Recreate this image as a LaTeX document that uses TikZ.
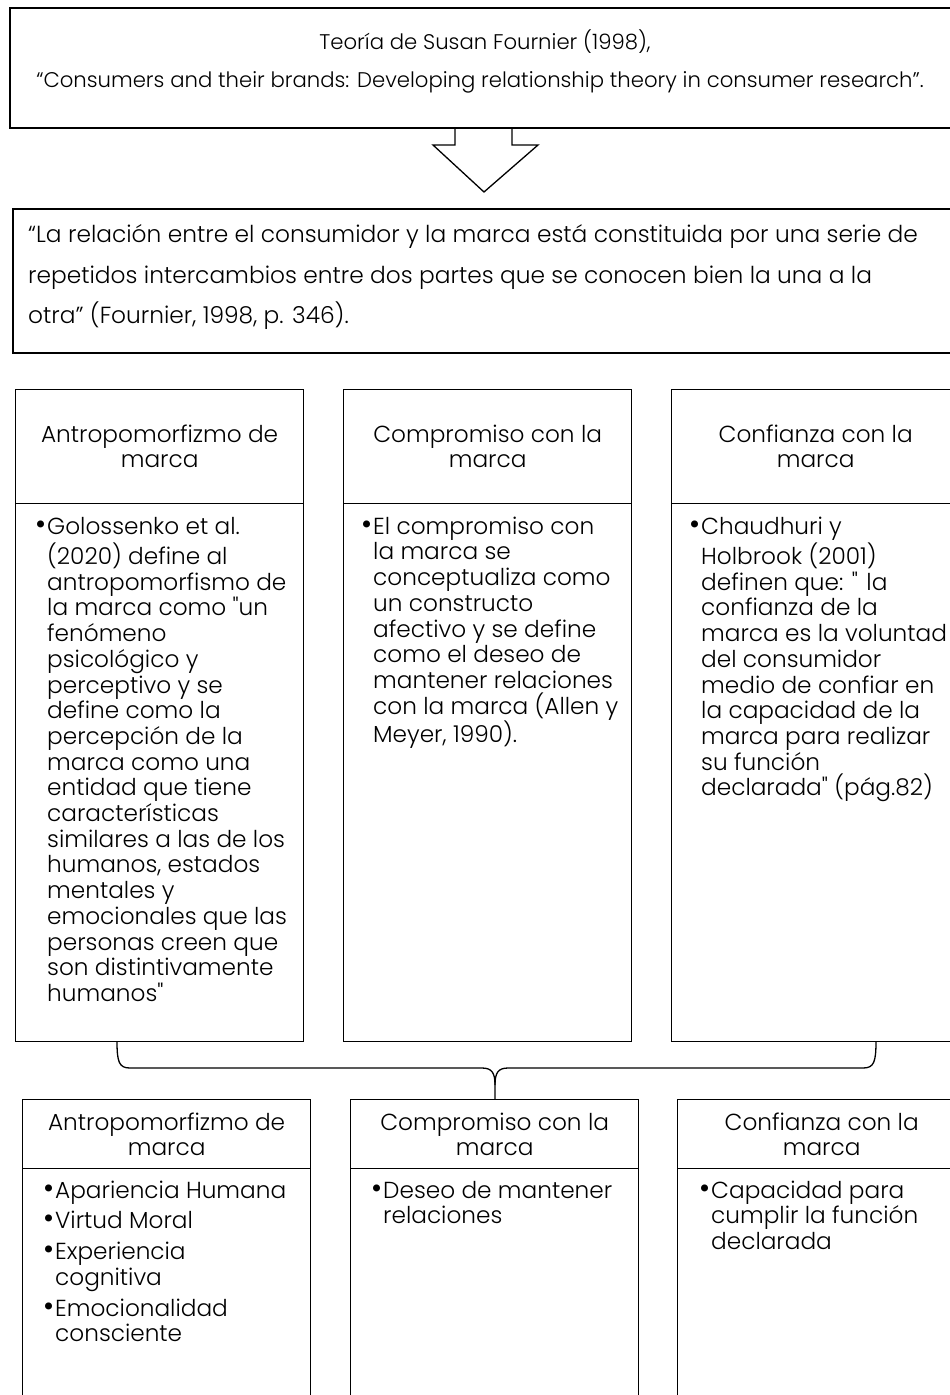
\documentclass[tikz,border=0pt]{standalone}
\usepackage{fontspec}
\setmainfont{Poppins Light}
\newcommand\bul{\llap{\scalebox{1.3}{\textbullet}\kern1pt}}
\newcommand\dq{\textquotedbl}
\begin{document}
\begin{tikzpicture}[x=1pt,y=-1pt,
  bigbox/.style={draw, line width=1.8pt, anchor=north west, inner sep=0},
  colbox/.style={draw, line width=1.3pt, anchor=north west, inner sep=0, minimum width=288pt},
  toptxt/.style={font=\fontsize{21.2}{24}\selectfont, inner sep=0},
  quotetxt/.style={font=\fontsize{23.3}{40.5}\selectfont, align=left, anchor=north west, inner sep=0},
  hdr/.style={font=\fontsize{23.2}{25}\selectfont, align=center, inner sep=0},
  bodytxt/.style={font=\fontsize{23.2}{25.7}\selectfont, align=left, anchor=north west, inner sep=0},
  link/.style={line width=1.3pt, line join=miter}]
\clip (0,0) rectangle (950,1395);
\fill[white] (0,0) rectangle (950,1395);

% top box
\node[bigbox, minimum width=955pt, minimum height=120pt] (top) at (9,7) {};
\node[toptxt] (t1) at (485,42) {Teoría de Susan Fournier (1998),};
\node[toptxt] (t2) at (480,82) {“Consumers and their brands: Developing relationship theory in consumer research”.};

% block arrow
\draw[link] (455,127) -- (455,145) -- (433,145) -- (484,192) -- (538,145) -- (512,145) -- (512,127);

% quote box
\node[bigbox, minimum width=955pt, minimum height=144pt] (quote) at (12,208) {};
\node[quotetxt] (qt) at (28,214) {\strut“La relación entre el consumidor y la marca está constituida por una serie de\\
repetidos intercambios entre dos partes que se conocen bien la una a la\\
otra” (Fournier, 1998, p. 346).};

% row 1
\node[colbox, minimum height=114pt] (h1) at (15,389) {};
\node[colbox, minimum height=538pt] (b1) at (15,503) {};
\node[colbox, minimum height=114pt] (h2) at (343,389) {};
\node[colbox, minimum height=538pt] (b2) at (343,503) {};
\node[colbox, minimum height=114pt] (h3) at (671,389) {};
\node[colbox, minimum height=538pt] (b3) at (671,503) {};

\node[hdr] (h1t) at (h1.center) {Antropomorfizmo de\\marca};
\node[hdr] (h2t) at (h2.center) {Compromiso con la\\marca};
\node[hdr] (h3t) at (h3.center) {Confianza con la\\marca};

\node[bodytxt] (b1t) at (47,516) {\strut\bul Golossenko et al.\\
(2020) define al\\
antropomorfismo de\\
la marca como \dq un\\
fenómeno\\
psicológico y\\
perceptivo y se\\
define como la\\
percepción de la\\
marca como una\\
entidad que tiene\\
características\\
similares a las de los\\
humanos, estados\\
mentales y\\
emocionales que las\\
personas creen que\\
son distintivamente\\
humanos\dq};

\node[bodytxt] (b2t) at (373,516) {\strut\bul El compromiso con\\
la marca se\\
conceptualiza como\\
un constructo\\
afectivo y se define\\
como el deseo de\\
mantener relaciones\\
con la marca (Allen y\\
Meyer, 1990).};

\node[bodytxt] (b3t) at (701,516) {\strut\bul Chaudhuri y\\
Holbrook (2001)\\
definen que: \dq{} la\\
confianza de la\\
marca es la voluntad\\
del consumidor\\
medio de confiar en\\
la capacidad de la\\
marca para realizar\\
su función\\
declarada\dq{} (pág.82)};

% brace
\coordinate (bl) at (117,1041);
\coordinate (br) at (876,1041);
\coordinate (stem) at (495,1085);

% row 2
\node[colbox, minimum height=69pt] (g1) at (22,1099) {};
\node[colbox, minimum height=260pt] (c1) at (22,1168) {};
\node[colbox, minimum height=69pt] (g2) at (350,1099) {};
\node[colbox, minimum height=260pt] (c2) at (350,1168) {};
\node[colbox, minimum height=69pt] (g3) at (677,1099) {};
\node[colbox, minimum height=260pt] (c3) at (677,1168) {};

\draw[line width=1.3pt] (bl) .. controls (117,1062) and (119,1068) .. (130,1068) -- (482,1068)
  .. controls (492,1068) and (495,1073) .. (stem) -- (g2.north -| stem);
\draw[line width=1.3pt] (br) .. controls (876,1062) and (874,1068) .. (863,1068) -- (508,1068)
  .. controls (498,1068) and (495,1073) .. (stem);

\node[hdr] (g1t) at (g1.center) {Antropomorfizmo de\\marca};
\node[hdr] (g2t) at (g2.center) {Compromiso con la\\marca};
\node[hdr] (g3t) at (g3.center) {Confianza con la\\marca};

\node[bodytxt] (c1t) at (55,1180) {\strut\bul Apariencia Humana\\[5pt]
\bul Virtud Moral\\[5pt]
\bul Experiencia\\
cognitiva\\[5pt]
\bul Emocionalidad\\
consciente};
\node[bodytxt] (c2t) at (383,1180) {\strut\bul Deseo de mantener\\
relaciones};
\node[bodytxt] (c3t) at (711,1180) {\strut\bul Capacidad para\\
cumplir la función\\
declarada};
\end{tikzpicture}
\end{document}
